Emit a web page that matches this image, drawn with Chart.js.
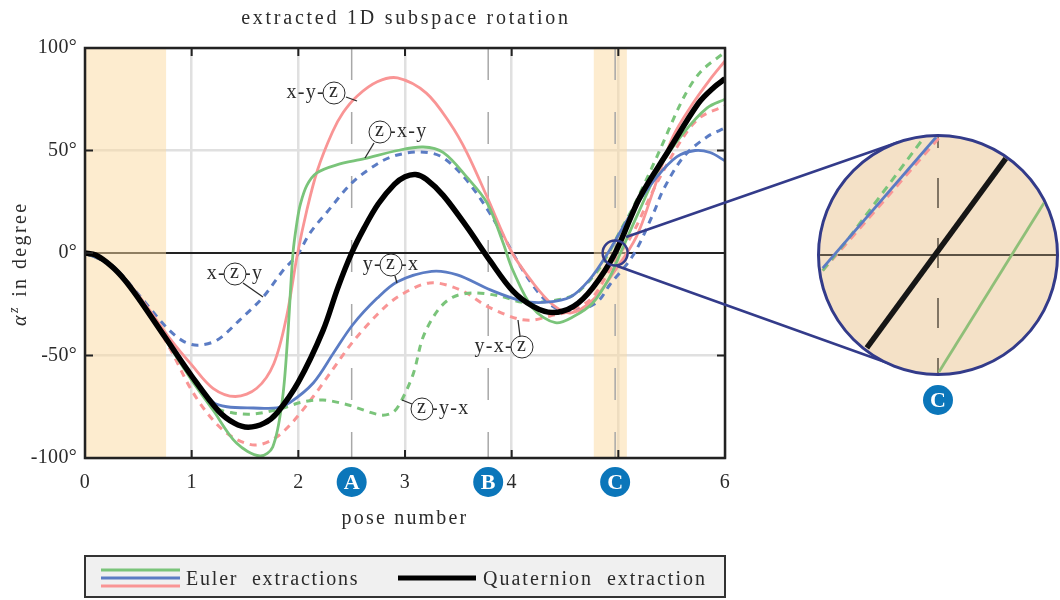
<!DOCTYPE html>
<html lang="en">
<head>
<meta charset="UTF-8">
<title>extracted 1D subspace rotation</title>
<script src="https://cdn.jsdelivr.net/npm/chart.js"></script>
<style>
    body { margin: 0; background: #fff; }
    #main { position: absolute; left: 0; top: 0; }
    #lens { position: absolute; left: 817px; top: 134px; width: 242px; height: 242px; box-sizing: border-box;
        border: 3px solid #333b8a; border-radius: 50%; overflow: hidden; background: #f4e1c7; }
    #inset { display: block; }
</style>
</head>
<body>
<canvas id="main" width="1060" height="600"></canvas>
<div id="lens"><canvas id="inset" width="236" height="236"></canvas></div>
<script>
// values, pose number / degree
const quatX = [0, .1, .25, .37, .5, .75, 1, 1.25, 1.4, 1.53, 1.68, 1.8, 2, 2.23, 2.37, 2.5, 2.62, 2.75, 2.9, 3, 3.1, 3.2, 3.36, 3.58, 3.8, 4.01, 4.2, 4.38, 4.58, 4.76, 4.97, 5.2, 5.46, 5.75, 5.9, 6];
const quatY = [0, -1, -6.5, -13, -22, -41, -60, -77, -83, -85, -83, -78, -63, -38, -17, 0, 12.5, 24, 33.5, 37.2, 38.3, 36, 28, 12.7, -4, -18.5, -26, -29, -26, -17, 0, 27, 49, 73, 81, 85];

const xyzX = [0, .25, .5, .8, 1, 1.2, 1.41, 1.61, 1.77, 1.89, 1.99, 2.08, 2.18, 2.32, 2.42, 2.55, 2.74, 2.93, 3.2, 3.42, 3.58, 3.77, 4, 4.2, 4.38, 4.55, 4.76, 4.95, 5.17, 5.33, 5.51, 5.7, 5.85, 6];
const xyzY = [0, -6, -20.5, -42, -54.6, -66, -70, -66, -54, -31, -1, 21, 40.5, 59, 68.5, 76.5, 83.5, 85.4, 78, 63.4, 49, 27.3, .5, -14.6, -25, -29.3, -23, -10, 8, 30.7, 56.5, 73, 84, 93.7];

const zxyX = [0, .25, .5, .8, 1, 1.2, 1.42, 1.64, 1.76, 1.85, 1.9, 1.95, 1.99, 2.02, 2.08, 2.17, 2.36, 2.62, 2.93, 3.17, 3.36, 3.58, 3.77, 3.92, 4.01, 4.2, 4.41, 4.58, 4.76, 4.92, 5.02, 5.2, 5.39, 5.61, 5.83, 6];
const zxyY = [0, -6, -21, -46, -62, -76.6, -92.7, -99, -94.6, -71.7, -41, 0, 16, 24, 33, 39, 43, 46, 50, 51.7, 49, 37, 24.4, 4.9, -8.3, -27, -34, -31, -24.4, -11.7, 0, 21, 42, 58.5, 70.7, 75];

const yzxX = [0, .25, .5, .8, 1, 1.2, 1.33, 1.58, 1.8, 1.92, 2.14, 2.33, 2.51, 2.74, 2.93, 3.25, 3.49, 3.8, 4.1, 4.33, 4.55, 4.73, 4.89, 5.14, 5.36, 5.55, 5.72, 5.86, 6];
const yzxY = [0, -6, -21, -45, -60, -72.7, -75, -75.6, -75.6, -73, -63.4, -48.8, -35, -22, -14, -9, -10.7, -18, -23.4, -24, -21.5, -13, -1, 21, 37, 47, 50, 49, 45];

const xzyX = [0, .25, .49, .61, .77, .92, 1.06, 1.24, 1.45, 1.67, 1.86, 1.99, 2.11, 2.27, 2.51, 2.77, 2.93, 3.14, 3.33, 3.52, 3.7, 3.89, 4.1, 4.27, 4.42, 4.61, 4.8, 4.92, 5.14, 5.33, 5.42, 5.61, 5.83, 6];
const xzyY = [0, -6, -19.5, -27, -36.6, -43, -45, -42.4, -32.7, -21.5, -8.3, -1, 9.8, 20, 34.6, 44.4, 47.8, 49.3, 47.3, 39, 27, 11.2, -8, -20.5, -27, -28, -24, -15.5, -1, 19.5, 30.7, 46.8, 56.6, 61];

const yxzX = [0, .25, .5, .8, 1, 1.2, 1.39, 1.59, 1.76, 1.92, 2.14, 2.32, 2.51, 2.74, 2.93, 3.23, 3.52, 3.77, 4.05, 4.2, 4.36, 4.58, 4.76, 4.9, 5.02, 5.14, 5.36, 5.61, 5.77, 6];
const yxzY = [0, -6, -21, -47, -67, -81.5, -90, -93.7, -91, -84, -70, -57, -43.4, -30, -21.5, -14.6, -18, -26, -32, -32.7, -30.7, -27.8, -21.5, -10, 0, 10, 34, 56.6, 66.3, 71.7];

const zyxX = [0, .25, .5, .8, 1, 1.24, 1.39, 1.58, 1.83, 2.04, 2.23, 2.46, 2.77, 2.89, 2.97, 3.08, 3.17, 3.31, 3.45, 3.64, 3.89, 4.1, 4.36, 4.58, 4.76, 4.89, 5.02, 5.14, 5.36, 5.61, 5.77, 6];
const zyxY = [0, -6, -21, -45, -60, -75.6, -78, -78.5, -76, -72.7, -71.7, -74, -79, -77.6, -71.7, -58.5, -41, -27.8, -21.5, -19.5, -21, -24, -23.4, -20.5, -11.7, -2, 11, 22.4, 46.8, 75.6, 88.3, 98];

// tick labels and marked poses
const poseTicks = [0, 1, 2, 3, 4, 5, 6];
const degreeTicks = [-100, -50, 0, 50, 100];
const markerPoses = [2.5, 3.78, 4.97];
const markerNames = ['A', 'B', 'C'];
const bandStarts = [0, 4.77];
const bandEnds = [.76, 5.08];

// magnified view around marker C
const zoomBlackX = [4.891, 5.046];
const zoomBlackY = [-5.35, 5.61];
const zoomGreenX = [4.971, 5.088];
const zoomGreenY = [-6.74, 3.02];
const zoomBlueX = [4.842, 4.968];
const zoomBlueY = [-.76, 6.8];
const zoomDashedGreenX = [4.842, 4.872, 4.954];
const zoomDashedGreenY = [-.9, 1.04, 6.74];
const zoomDashedPinkX = [4.842, 4.972];
const zoomDashedPinkY = [-.9, 6.8];

const GREEN = '#7ac47a', BLUE = '#5b7cc4', PINK = '#f99595', NAVY = '#333b8a', BADGE = '#0b76ba', INK = '#2b2b2b';
const SERIF = '"Liberation Serif", serif';

function pts(xs, ys) { return xs.map((x, i) => ({ x: x, y: ys[i] })); }

function curve(xs, ys, color, width, dash) {
    return { data: pts(xs, ys), borderColor: color, borderWidth: width, borderDash: dash || [],
        pointRadius: 0, tension: .33, fill: false };
}

function markerLine(pose) {
    return { data: pts([pose, pose], [100, -100]), borderColor: '#a8a8a8', borderWidth: 1.5,
        borderDash: [32, 32], pointRadius: 0 };
}

// circled-letter annotations: text left of circle, circled letter, text right of it, leader line
const notes = [
    { l: 'x-y-', z: 'z', r: '', cx: 334, cy: 93, lead: [346, 97, 357, 101] },
    { l: '', z: 'z', r: '-x-y', cx: 380, cy: 132, lead: [374, 143, 365, 158] },
    { l: 'x-', z: 'z', r: '-y', cx: 235, cy: 274, lead: [243, 283, 263, 297] },
    { l: 'y-', z: 'z', r: '-x', cx: 391, cy: 265, lead: [395, 276, 397, 283] },
    { l: 'y-x-', z: 'z', r: '', cx: 522, cy: 347, lead: [520, 336, 518, 320] },
    { l: '', z: 'z', r: '-y-x', cx: 422, cy: 409, lead: [412, 404, 402, 400] }
];

function spaced(ctx, px) { ctx.letterSpacing = px + 'px'; }

const spacingPlugin = {
    id: 'spacing',
    beforeDraw(chart) { spaced(chart.ctx, .3); }
};

const bandsPlugin = {
    id: 'bands',
    beforeDatasetsDraw(chart) {
        const { ctx, chartArea: a, scales: { x } } = chart;
        ctx.save();
        ctx.fillStyle = 'rgba(252, 218, 160, .5)';
        bandStarts.forEach((s, i) => {
            const x0 = x.getPixelForValue(s), x1 = x.getPixelForValue(bandEnds[i]);
            ctx.fillRect(x0, a.top, x1 - x0, a.bottom - a.top);
        });
        ctx.restore();
    }
};

const decorPlugin = {
    id: 'decor',
    afterDatasetsDraw(chart) {
        const { ctx, chartArea: a, scales: { x, y } } = chart;
        ctx.save();
        // frame and inner ticks
        ctx.strokeStyle = '#222';
        ctx.lineWidth = 2;
        ctx.beginPath();
        poseTicks.slice(1, -1).forEach(t => {
            const px = x.getPixelForValue(t);
            ctx.moveTo(px, a.top); ctx.lineTo(px, a.top + 8);
            ctx.moveTo(px, a.bottom); ctx.lineTo(px, a.bottom - 8);
        });
        degreeTicks.slice(1, -1).forEach(t => {
            const py = y.getPixelForValue(t);
            ctx.moveTo(a.left, py); ctx.lineTo(a.left + 8, py);
            ctx.moveTo(a.right, py); ctx.lineTo(a.right - 8, py);
        });
        ctx.stroke();
        ctx.lineWidth = 2.5;
        ctx.strokeRect(a.left, a.top, a.right - a.left, a.bottom - a.top);

        // titles, wider set than the tick labels
        ctx.fillStyle = INK;
        ctx.font = '20px ' + SERIF;
        ctx.textAlign = 'center';
        ctx.textBaseline = 'middle';
        spaced(ctx, 2.75);
        ctx.fillText('extracted 1D subspace rotation', 406, 19);
        spaced(ctx, 2.2);
        ctx.fillText('pose number', 405, 519);

        // annotations
        ctx.font = '20px ' + SERIF;
        ctx.textBaseline = 'middle';
        spaced(ctx, 1.3);
        notes.forEach(n => {
            ctx.fillStyle = INK;
            ctx.textAlign = 'right';
            if (n.l) ctx.fillText(n.l, n.cx - 9, n.cy);
            ctx.textAlign = 'left';
            if (n.r) ctx.fillText(n.r, n.cx + 9, n.cy);
            ctx.beginPath();
            ctx.arc(n.cx, n.cy, 11, 0, Math.PI * 2);
            ctx.fillStyle = '#fff';
            ctx.fill();
            ctx.lineWidth = 1;
            ctx.strokeStyle = INK;
            ctx.stroke();
            ctx.fillStyle = INK;
            ctx.textAlign = 'center';
            ctx.fillText(n.z, n.cx, n.cy - 1);
            ctx.beginPath();
            ctx.moveTo(n.lead[0], n.lead[1]);
            ctx.lineTo(n.lead[2], n.lead[3]);
            ctx.lineWidth = 1.3;
            ctx.stroke();
        });

        // lens around marker C and its connectors to the magnified view
        const lx = x.getPixelForValue(markerPoses[2]), ly = y.getPixelForValue(0);
        ctx.strokeStyle = NAVY;
        ctx.lineWidth = 2.5;
        ctx.beginPath();
        ctx.arc(lx, ly, 12.5, 0, Math.PI * 2);
        ctx.moveTo(lx + 11, ly - 16);
        ctx.lineTo(899, 142);
        ctx.moveTo(lx + 2, ly + 13);
        ctx.lineTo(899, 367);
        ctx.stroke();

        // badges
        ctx.textAlign = 'center';
        ctx.textBaseline = 'middle';
        const badge = (px, py, name) => {
            ctx.beginPath();
            ctx.arc(px, py, 15, 0, Math.PI * 2);
            ctx.fillStyle = BADGE;
            ctx.fill();
            ctx.fillStyle = '#fff';
            ctx.font = 'bold 22px ' + SERIF;
            spaced(ctx, 0);
            ctx.fillText(name, px, py + 1);
        };
        markerPoses.forEach((p, i) => badge(x.getPixelForValue(p), 482, markerNames[i]));
        badge(938, 400, markerNames[2]);

        // y axis title
        ctx.fillStyle = INK;
        ctx.save();
        ctx.translate(21, 326);
        ctx.rotate(-Math.PI / 2);
        ctx.textAlign = 'left';
        spaced(ctx, 2.4);
        ctx.font = 'italic 20px ' + SERIF;
        ctx.fillText('α', 0, 0);
        let w = ctx.measureText('α').width;
        ctx.font = 'italic 14px ' + SERIF;
        ctx.fillText('z', w, -7);
        w += ctx.measureText('z').width + 1;
        ctx.font = '20px ' + SERIF;
        ctx.fillText(' in degree', w, 0);
        ctx.restore();

        // legend box
        ctx.fillStyle = '#f0f0f0';
        ctx.fillRect(85, 556, 640, 41);
        ctx.strokeStyle = '#333';
        ctx.lineWidth = 2;
        ctx.strokeRect(85, 556, 640, 41);
        ctx.lineWidth = 3;
        [[GREEN, 570], [BLUE, 578], [PINK, 586]].forEach(l => {
            ctx.strokeStyle = l[0];
            ctx.beginPath();
            ctx.moveTo(101, l[1]);
            ctx.lineTo(180, l[1]);
            ctx.stroke();
        });
        ctx.strokeStyle = '#000';
        ctx.lineWidth = 5;
        ctx.beginPath();
        ctx.moveTo(398, 578);
        ctx.lineTo(476, 578);
        ctx.stroke();
        ctx.fillStyle = INK;
        ctx.font = '20px ' + SERIF;
        ctx.textAlign = 'left';
        spaced(ctx, 1.8);
        ctx.fillText('Euler  extractions', 186, 580);
        spaced(ctx, 2);
        ctx.fillText('Quaternion  extraction', 483, 580);
        ctx.restore();
    }
};

new Chart(document.getElementById('main'), {
    type: 'line',
    data: {
        datasets: [
            curve(quatX, quatY, '#000', 5.5),
            curve(yzxX, yzxY, BLUE, 2.8),
            curve(zxyX, zxyY, GREEN, 2.8),
            curve(xyzX, xyzY, PINK, 2.8),
            curve(xzyX, xzyY, BLUE, 3, [7, 6]),
            curve(zyxX, zyxY, GREEN, 3, [7, 6]),
            curve(yxzX, yxzY, PINK, 3, [7, 6]),
            ...markerPoses.map(markerLine)
        ]
    },
    options: {
        responsive: false,
        animation: false,
        layout: { padding: { left: 0, right: 335, top: 48, bottom: 72 } },
        plugins: {
            legend: { display: false },
            tooltip: { enabled: false },
            title: { display: false }
        },
        scales: {
            x: {
                type: 'linear', min: 0, max: 6,
                grid: { color: '#e0e0e0', lineWidth: 2.5, drawTicks: false },
                border: { display: false },
                ticks: { stepSize: 1, color: INK, padding: 13, maxRotation: 0, font: { family: SERIF, size: 20 } },
                afterFit(s) { s.height = 70; }
            },
            y: {
                min: -100, max: 100,
                grid: {
                    drawTicks: false,
                    color: c => c.tick.value === 0 ? '#222' : '#e0e0e0',
                    lineWidth: c => c.tick.value === 0 ? 2 : 2.5
                },
                border: { display: false },
                ticks: { stepSize: 50, color: INK, padding: 8, font: { family: SERIF, size: 20 }, callback: v => v + '°' },
                afterFit(s) { s.width = 85; }
            }
        }
    },
    plugins: [spacingPlugin, bandsPlugin, decorPlugin]
});

function straight(xs, ys, color, width, dash, offset) {
    return { data: pts(xs, ys), borderColor: color, borderWidth: width, borderDash: dash || [],
        borderDashOffset: offset || 0, pointRadius: 0 };
}

new Chart(document.getElementById('inset'), {
    type: 'line',
    data: {
        datasets: [
            straight(zoomBlackX, zoomBlackY, '#161616', 5.5),
            straight(zoomBlueX, zoomBlueY, BLUE, 2.8),
            straight(zoomGreenX, zoomGreenY, '#8fbf78', 2.8),
            straight(zoomDashedGreenX, zoomDashedGreenY, GREEN, 3, [8, 6]),
            straight(zoomDashedPinkX, zoomDashedPinkY, PINK, 3, [8, 6]),
            straight([4.839, 5.101], [0, 0], '#5b5244', 2),
            straight([markerPoses[2], markerPoses[2]], [6.8, -6.8], '#5b5244', 1.5, [30, 30], 19)
        ]
    },
    options: {
        responsive: false,
        animation: false,
        layout: { padding: 0 },
        plugins: { legend: { display: false }, tooltip: { enabled: false }, title: { display: false } },
        scales: {
            x: { type: 'linear', display: false, min: 4.839, max: 5.101 },
            y: { display: false, min: -6.8, max: 6.8 }
        }
    }
});
</script>
</body>
</html>
